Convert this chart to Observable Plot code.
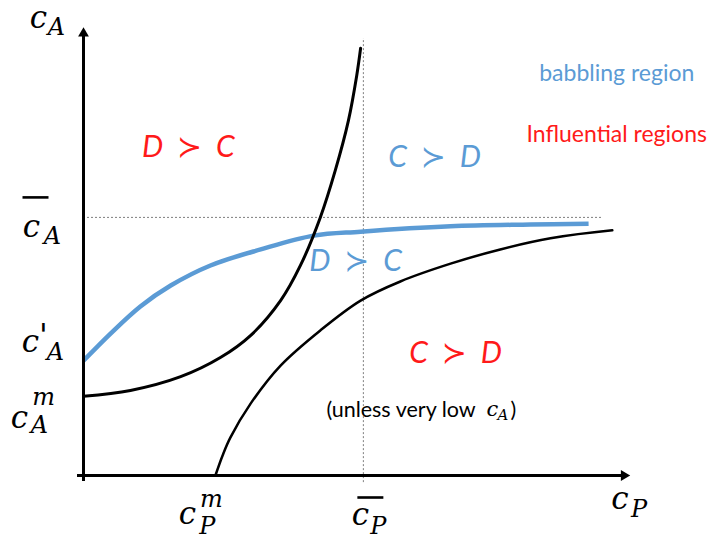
<!DOCTYPE html>
<html>
<head>
<meta charset="utf-8">
<script src="https://cdn.jsdelivr.net/npm/d3@7"></script>
<script src="https://cdn.jsdelivr.net/npm/@observablehq/plot@0.6"></script>
<style>
  body { margin: 0; background: #fff; }
</style>
</head>
<body>
<div id="chart"></div>
<script>
// Threshold costs marked on the axes (plot units)
const cPm = 2.39, cPbar = 5.07;
const cAm = 1.78, cAprime = 2.58, cAbar = 5.80;
// Axis extents and reference-line extents
const xTip = 9.9, yTip = 10.07;
const hLineEnd = 9.42;
const vLineLow = -0.16, vLineHigh = 9.82;

// Left boundary: rises from c_A^m and turns steeply upward near c_P bar
const leftX = [0, 0.85, 1.76, 2.48, 3.03, 3.57, 3.93, 4.29, 4.56, 4.80, 4.95, 5.02];
const leftY = [cAm, 1.91, 2.22, 2.65, 3.15, 3.93, 4.72, 5.80, 6.85, 7.98, 8.99, 9.60];

// Babbling boundary: from c'_A toward c_A bar
const babX = [0, 0.49, 1.03, 1.58, 2.30, 3.21, 4.17, 5.02, 6.65, 8.10, 9.15];
const babY = [cAprime, 3.19, 3.80, 4.27, 4.72, 5.08, 5.39, 5.48, 5.60, 5.64, 5.66];

// Right boundary: starts at c_P^m and flattens below c_A bar
const rightX = [cPm, 2.52, 2.66, 3.03, 3.57, 4.29, 5.02, 5.74, 6.65, 7.55, 8.46, 9.58];
const rightY = [0, 0.45, 0.85, 1.62, 2.47, 3.26, 3.93, 4.36, 4.76, 5.08, 5.33, 5.51];

// Region labels
const regionText  = ["D\u2002\u227B\u2002C", "C\u2002\u227B\u2002D", "D\u2002\u227B\u2002C", "C\u2002\u227B\u2002D"];
const regionX     = [1.90, 6.36, 4.93, 6.74];
const regionY     = [7.38, 7.15, 4.81, 2.74];
const regionColor = ["red", "blue", "blue", "red"];

// Legend entries
const legendText  = ["babbling region", "Influential regions"];
const legendColor = ["blue", "red"];

const BLUE = "#5b9bd5", RED = "#ff1a1a";
const colorOf = c => c === "blue" ? BLUE : RED;

const toPts = (xs, ys) => xs.map((x, i) => ({x, y: ys[i]}));
const regions = regionText.map((t, i) => ({t, x: regionX[i], y: regionY[i], c: colorOf(regionColor[i])}));

const MATH = "DejaVu Serif";
const SANS = "Lato, 'DejaVu Sans', sans-serif";

// A math glyph placed relative to an anchor point given in plot units
function glyph(text, x, y, dx, dy, size, opts = {}) {
  return Plot.text([{x, y}], {
    x: "x", y: "y", text: () => text, dx, dy,
    fontFamily: MATH, fontStyle: "italic", fontSize: size, fill: "black",
    textAnchor: "middle", ...opts
  });
}
// Overline drawn as a short horizontal stroke symbol
const overline = {
  draw(context, size) {
    const r = Math.sqrt(size / Math.PI);
    context.moveTo(-r, 0);
    context.lineTo(r, 0);
  }
};
function bar(x, y, dx, dy, half) {
  return Plot.dot([{x, y}], {
    x: "x", y: "y", symbol: overline, r: half, dx, dy,
    stroke: "black", strokeWidth: 2.6, fill: "none"
  });
}
// Note text placed from a common start point
const noteAt = {x: 4.4, y: 1.46};
function note(text, dx, dy, size, family, style = "normal") {
  return Plot.text([noteAt], {
    x: "x", y: "y", text: () => text, textAnchor: "start", dx, dy,
    fontFamily: family, fontStyle: style, fontSize: size, fill: "black"
  });
}

const chart = Plot.plot({
  width: 708,
  height: 539,
  marginLeft: 83,
  marginRight: 73,
  marginTop: 30,
  marginBottom: 64,
  x: {domain: [0, 10], axis: null},
  y: {domain: [0, 10], axis: null},
  style: {background: "white", overflow: "visible"},
  marks: [
    // dotted reference lines at c_A bar and c_P bar
    Plot.ruleY([cAbar], {x1: 0, x2: hLineEnd, stroke: "#7f7f7f", strokeWidth: 1, strokeDasharray: "2,2"}),
    Plot.ruleX([cPbar], {y1: vLineLow, y2: vLineHigh, stroke: "#7f7f7f", strokeWidth: 1, strokeDasharray: "2,2"}),

    // boundary curves
    Plot.line(toPts(babX, babY), {x: "x", y: "y", curve: "catmull-rom", stroke: BLUE, strokeWidth: 4.5, strokeLinecap: "butt"}),
    Plot.line(toPts(leftX, leftY), {x: "x", y: "y", curve: "catmull-rom", stroke: "black", strokeWidth: 3}),
    Plot.line(toPts(rightX, rightY), {x: "x", y: "y", curve: "catmull-rom", stroke: "black", strokeWidth: 2.5}),

    // axes with arrowheads
    Plot.ruleX([0], {y1: 0, y2: yTip, stroke: "black", strokeWidth: 3, dy: 6}),
    Plot.ruleY([0], {x1: 0, x2: xTip, stroke: "black", strokeWidth: 3, dx: -6}),
    Plot.dot([{x: 0, y: yTip}], {x: "x", y: "y", symbol: "triangle", r: 4, fill: "black", stroke: null, dy: 6}),
    Plot.dot([{x: xTip, y: 0}], {x: "x", y: "y", symbol: "triangle", r: 4, fill: "black", stroke: null, rotate: 90, dx: -6}),

    // y-axis title c_A
    glyph("c", 0, yTip, -45, -9, 31),
    glyph("A", 0, yTip, -27, 0, 24),
    // c_A bar
    bar(0, cAbar, -48, -20, 13),
    glyph("c", 0, cAbar, -52, 10, 31),
    glyph("A", 0, cAbar, -31, 19, 24),
    // c'_A
    glyph("c", 0, cAprime, -53, -19, 31),
    glyph("'", 0, cAprime, -40, -25, 32),
    glyph("A", 0, cAprime, -28, -8, 24),
    // c_A^m
    glyph("c", 0, cAm, -64, 22, 31),
    glyph("m", 0, cAm, -40, 1, 24),
    glyph("A", 0, cAm, -44, 29, 24),
    // c_P^m
    glyph("c", cPm, 0, -28, 39, 31),
    glyph("m", cPm, 0, -4, 24, 24),
    glyph("P", cPm, 0, -8, 51, 24),
    // c_P bar
    bar(cPbar, 0, 7, 22, 13),
    glyph("c", cPbar, 0, -3, 40, 31),
    glyph("P", cPbar, 0, 15, 51, 24),
    // x-axis title c_P
    glyph("c", xTip, 0, -10, 24, 31),
    glyph("P", xTip, 0, 9, 34, 24),

    // region labels
    Plot.text(regions, {x: "x", y: "y", text: "t", fill: "c", fontFamily: SANS, fontStyle: "italic", fontSize: 30}),

    // note under the lower C ≻ D region
    note("(unless very low", 0, 0, 21.5, SANS),
    note("c", 160, -1, 21, MATH, "italic"),
    note("A", 171, 5, 15, MATH, "italic"),
    note(")", 184, 0, 21.5, SANS),

    // legend
    Plot.text(legendText, {x: () => 9.66, y: (d, i) => [9.04, 7.67][i], text: d => d,
      fill: (d, i) => colorOf(legendColor[i]), fontFamily: SANS, fontSize: 23})
  ]
});

document.getElementById("chart").appendChild(chart);
</script>
</body>
</html>
